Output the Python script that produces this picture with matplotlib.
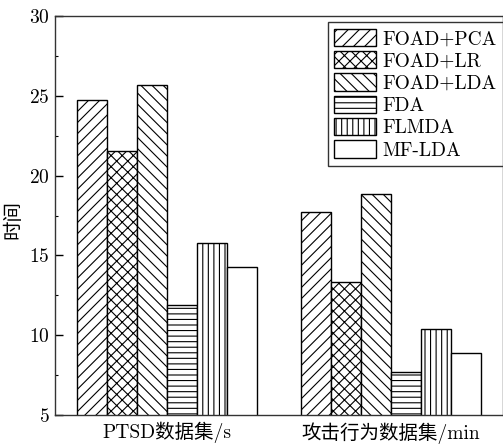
import matplotlib
matplotlib.use("Agg")
import matplotlib.pyplot as plt
from matplotlib.ticker import MultipleLocator
import numpy as np

# Data
categories = ["PTSD数据集/s", "攻击行为数据集/min"]
methods = ["FOAD+PCA", "FOAD+LR", "FOAD+LDA", "FDA", "FLMDA", "MF-LDA"]
foad_pca = [24.75, 17.75]
foad_lr = [21.55, 13.35]
foad_lda = [25.65, 18.85]
fda = [11.9, 7.7]
flmda = [15.75, 10.4]
mf_lda = [14.25, 8.9]
series = [foad_pca, foad_lr, foad_lda, fda, flmda, mf_lda]
hatches = ["///", "xxx", "\\\\\\", "---", "|||", ""]
y_ticks = [5, 10, 15, 20, 25, 30]
y_label = "时间"

plt.rcParams["font.family"] = ["cmr10", "Noto Sans CJK SC"]
plt.rcParams["axes.formatter.use_mathtext"] = True
plt.rcParams["hatch.linewidth"] = 0.8
plt.rcParams["hatch.color"] = "black"

FS = 14

fig = plt.figure(figsize=(5.03, 4.47), dpi=100)
ax = fig.add_axes([55 / 503, 1 - 415 / 447, 1 - 55 / 503, (415 - 16) / 447])

x = np.arange(len(categories))
n = len(series)
width = 0.8 / n
for i, (vals, h, name) in enumerate(zip(series, hatches, methods)):
    offs = (i - (n - 1) / 2) * width
    ax.bar(x + offs, vals, width, bottom=0, color="white", edgecolor="black",
           linewidth=1.0, hatch=h, label=name)

ax.set_xlim(-0.5, 1.5)
ax.set_ylim(5, 30)
ax.set_xticks(x)
ax.set_xticklabels(categories, fontsize=FS)
ax.set_yticks(y_ticks)
ax.yaxis.set_minor_locator(MultipleLocator(2.5))
ax.tick_params(axis="y", which="major", direction="in", length=6, width=1, labelsize=FS, pad=4)
ax.tick_params(axis="y", which="minor", direction="in", length=2, width=0.8)
ax.tick_params(axis="x", which="both", length=0, pad=5)

for s in ax.spines.values():
    s.set_linewidth(1.0)
    s.set_color("#333333")

ax.set_ylabel(y_label, fontsize=FS)
ax.yaxis.set_label_coords(-0.072, 0.49)

leg = ax.legend(loc="upper right", bbox_to_anchor=(1.0, 1 - 22 / 447),
                bbox_transform=fig.transFigure, borderaxespad=0,
                fontsize=FS, handlelength=2.15, handleheight=1.0,
                labelspacing=0.15, handletextpad=0.3, borderpad=0.35,
                fancybox=False, framealpha=1, edgecolor="#333333")
leg.get_frame().set_linewidth(1.0)

fig.savefig("out.png", dpi=100)
